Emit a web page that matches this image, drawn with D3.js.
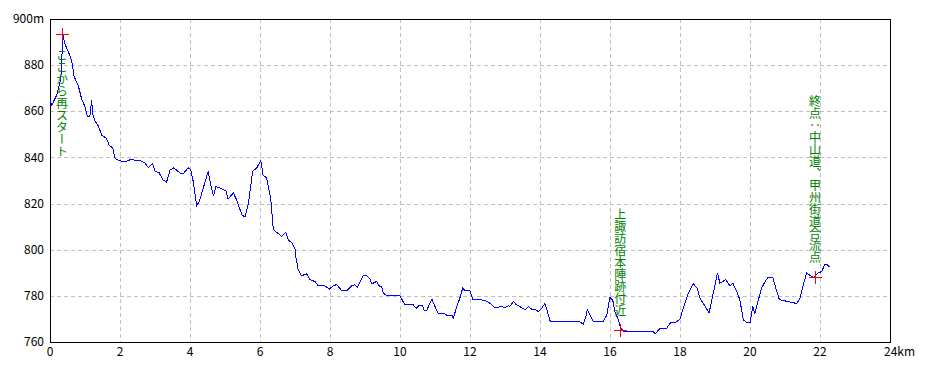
<!DOCTYPE html>
<html lang="ja">
<head>
    <meta charset="UTF-8">
    <title>標高グラフ</title>
    <script src="https://d3js.org/d3.v7.min.js"></script>
    <style>
        body { margin: 0; background: #fff; }
        text { font-family: "Noto Sans CJK JP", "DejaVu Sans", sans-serif; }
    </style>
</head>
<body>
    <script>
        // distance along the route (km) and elevation (m)
        var distKm = [0, 0.05, 0.19, 0.31, 0.37, 0.43, 0.52, 0.62, 0.69, 0.81, 0.91, 1.00, 1.07, 1.14, 1.19, 1.22, 1.29, 1.38, 1.48,
            1.52, 1.62, 1.69, 1.79, 1.86, 2.05, 2.19, 2.29, 2.57, 2.71, 2.81, 2.93, 3.00, 3.12, 3.22, 3.33, 3.43, 3.54, 3.71, 3.81,
            3.95, 4.02, 4.09, 4.19, 4.27, 4.38, 4.52, 4.57, 4.67, 4.74, 4.86, 5.03, 5.09, 5.24, 5.33, 5.48, 5.57, 5.67, 5.79, 5.91,
            6.02, 6.09, 6.19, 6.31, 6.38, 6.48, 6.62, 6.74, 6.81, 6.91, 7.00, 7.03, 7.09, 7.19, 7.33, 7.43, 7.57, 7.67, 7.86, 7.98,
            8.09, 8.19, 8.33, 8.48, 8.62, 8.71, 8.78, 8.95, 9.03, 9.14, 9.19, 9.33, 9.41, 9.48, 9.52, 9.62, 10.00, 10.14, 10.38, 10.46,
            10.57, 10.65, 10.69, 10.76, 10.91, 11.00, 11.09, 11.24, 11.33, 11.48, 11.52, 11.62, 11.71, 11.79, 11.86, 12.00, 12.08, 12.29,
            12.43, 12.57, 12.71, 12.91, 13.00, 13.09, 13.14, 13.24, 13.33, 13.48, 13.57, 13.67, 13.76, 13.86, 13.95, 14.05, 14.14, 14.21,
            14.29, 15.09, 15.24, 15.31, 15.35, 15.43, 15.52, 15.81, 15.91, 15.95, 16.00, 16.08, 16.14, 16.24, 16.29, 16.38, 17.24,
            17.29, 17.43, 17.62, 17.73, 17.86, 18.00, 18.09, 18.24, 18.38, 18.49, 18.57, 18.71, 18.83, 18.95, 19.07, 19.14, 19.31, 19.43,
            19.51, 19.62, 19.71, 19.81, 19.91, 20.00, 20.08, 20.14, 20.24, 20.33, 20.43, 20.52, 20.65, 20.71, 20.84, 20.95, 21.09, 21.24,
            21.33, 21.43, 21.52, 21.62, 21.73, 21.81, 21.95, 22.05, 22.14, 22.19, 22.27];
        var elevM = [865.2, 862.6, 867, 874, 893, 889, 886, 882, 875, 871, 865, 862, 857.7, 858, 865, 858.7, 855.8, 853.6, 849.6,
            849.3, 848.1, 845.2, 844.2, 839.4, 838.3, 838.3, 839, 838.7, 837.7, 835.5, 837.3, 834, 833.3, 830.4, 829.3, 834.5, 835.5, 833.3, 833,
            835.5, 834.8, 829.7, 819.1, 821, 826.8, 834, 829.7, 823.2, 827.3, 826.8, 825.4, 822, 824.6, 821.7, 815.2, 814.2, 820.3, 834, 835.5,
            838.7, 832.2, 831.2, 821.7, 808.7, 807.5, 805.8, 807.5, 804.3, 802.9, 800.4, 796.4, 791.3, 788.7, 789.6, 787, 786.2, 784.3, 784.3, 782.9,
            784.3, 784.9, 782.3, 782.3, 784.3, 784.8, 783.8, 788.7, 789, 787.3, 785.2, 786.2, 784.3, 783.8, 781.4, 780, 780, 776.1, 776.1, 774.6,
            776.1, 775.7, 773.5, 773.6, 778.6, 775.4, 772.5, 772.5, 771.7, 771.7, 770.3, 775.1, 779, 783.3, 782.3, 782.2, 778.3, 778.3,
            778, 776.8, 774.9, 775.4, 774.9, 775.7, 775.4, 777.5, 776.1, 774.9, 773.9, 775.4, 774.2, 774.2, 773.2, 774.6, 776.8, 773.2,
            769.1, 769.1, 767.7, 771, 773.9, 771.7, 769.1, 769.1, 771.7, 775.4, 779.4, 778, 773.2, 769.6, 766.7, 764.5, 764.5,
            763.5, 766, 766, 768.4, 768.4, 769.9, 774.6, 781.1, 785.2, 783.3, 779, 775.7, 772.5, 781.1, 789.9, 785.5, 787, 784.3,
            785.5, 781.9, 778.3, 769.6, 768.4, 768.4, 775.4, 772.2, 778.3, 783.3, 786.2, 788, 788, 784.8, 778.3, 778, 777.5, 777.1,
            776.5, 779, 784.8, 789.9, 788.7, 788, 789.9, 790.6, 793.8, 793.8, 792.5];

        // marked points and their notes
        var markKm = [0.34, 16.29, 21.86];
        var markElev = [893.5, 765, 788];
        var markLabels = ["ここから再スタート", "上諏訪宿本陣跡付近", "終点：中山道、甲州街道合流点"];
        var markSide = ["below", "above", "above"];

        // axis ticks
        var xTicks = [0, 2, 4, 6, 8, 10, 12, 14, 16, 18, 20, 22, 24];
        var yTicks = [760, 780, 800, 820, 840, 860, 880, 900];

        var margin = {top: 19, right: 40, bottom: 30, left: 50},
            width = 930 - margin.left - margin.right,
            height = 372 - margin.top - margin.bottom;

        var svg = d3.select("body").append("svg")
            .attr("width", 930)
            .attr("height", 372)
            .append("g")
            .attr("transform", "translate(" + margin.left + "," + margin.top + ")");

        var x = d3.scaleLinear().domain([0, 24]).range([0, width]);
        var y = d3.scaleLinear().domain([760, 900]).range([height, 0]);

        // dashed grid
        svg.append("g")
            .selectAll("line")
            .data(xTicks.slice(1, -1))
            .enter().append("line")
            .attr("x1", d => x(d) + 0.5).attr("x2", d => x(d) + 0.5)
            .attr("y1", 0).attr("y2", height)
            .attr("stroke", "#c0c0c0")
            .attr("stroke-dasharray", "4,3");
        svg.append("g")
            .selectAll("line")
            .data(yTicks.slice(1, -1))
            .enter().append("line")
            .attr("x1", 0).attr("x2", width)
            .attr("y1", d => Math.round(y(d)) + 0.5).attr("y2", d => Math.round(y(d)) + 0.5)
            .attr("stroke", "#c0c0c0")
            .attr("stroke-dasharray", "4,3");

        // frame
        svg.append("rect")
            .attr("x", 0.5).attr("y", 0.5)
            .attr("width", width).attr("height", height)
            .attr("fill", "none")
            .attr("stroke", "black");

        // tick labels
        svg.append("g")
            .selectAll("text")
            .data(yTicks)
            .enter().append("text")
            .attr("x", -6)
            .attr("y", d => y(d))
            .attr("dy", "0.35em")
            .attr("text-anchor", "end")
            .style("font-size", "12px")
            .text(d => d == 900 ? d + "m" : d);
        svg.append("g")
            .selectAll("text")
            .data(xTicks)
            .enter().append("text")
            .attr("x", d => d == 24 ? x(d) - 6 : x(d))
            .attr("y", height + 14)
            .attr("text-anchor", d => d == 24 ? "start" : "middle")
            .style("font-size", "12px")
            .text(d => d == 24 ? d + "km" : d);

        // elevation profile
        var line = d3.line()
            .x(d => x(d[0]))
            .y(d => y(d[1]));
        svg.append("path")
            .datum(d3.zip(distKm, elevM))
            .attr("d", line)
            .attr("fill", "none")
            .attr("stroke", "#0000ff")
            .attr("stroke-width", 1)
            .attr("shape-rendering", "crispEdges");

        // markers and vertical notes
        var marks = d3.zip(markKm, markElev, markLabels, markSide);
        var m = svg.append("g").selectAll("g").data(marks).enter().append("g");
        m.append("line")
            .attr("x1", d => Math.round(x(d[0])) - 6).attr("x2", d => Math.round(x(d[0])) + 7)
            .attr("y1", d => Math.round(y(d[1])) + 0.5).attr("y2", d => Math.round(y(d[1])) + 0.5)
            .attr("stroke", "red");
        m.append("line")
            .attr("x1", d => Math.round(x(d[0])) + 0.5).attr("x2", d => Math.round(x(d[0])) + 0.5)
            .attr("y1", d => Math.round(y(d[1])) - 6).attr("y2", d => Math.round(y(d[1])) + 7)
            .attr("stroke", "red");
        m.append("text")
            .attr("x", d => x(d[0]))
            .attr("y", d => d[3] == "below" ? y(d[1]) + 15 : y(d[1]) - 14)
            .attr("text-anchor", d => d[3] == "below" ? "start" : "end")
            .style("writing-mode", "vertical-rl")
            .style("font-size", "12px")
            .attr("fill", "#008000")
            .text(d => d[2]);
    </script>
</body>
</html>
